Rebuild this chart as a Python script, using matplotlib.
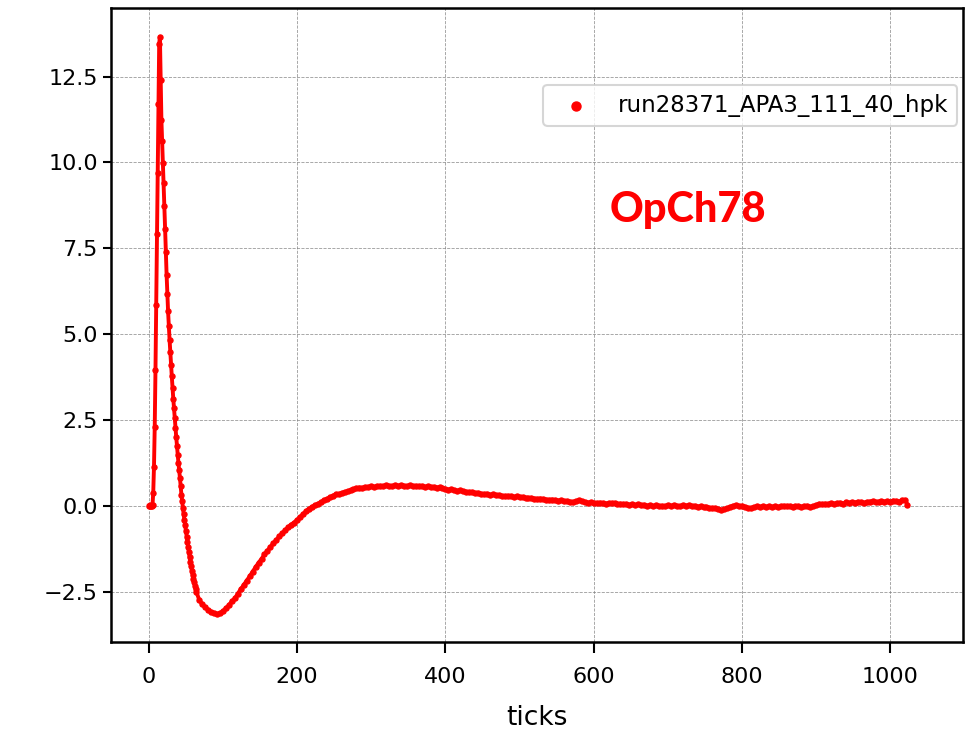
import numpy as np
import matplotlib
matplotlib.use("Agg")
import matplotlib.pyplot as plt

label = "run28371_APA3_111_40_hpk"
channel = "OpCh78"

# samples 0..63, one per tick
head_values = [
    0.00, 0.00, 0.01, -0.01, 0.00, 0.02, 0.38, 1.14, 2.30, 3.94,
    5.86, 7.90, 9.70, 11.70, 13.45, 13.66, 12.40, 11.24, 10.62, 9.99,
    9.40, 8.74, 8.06, 7.38, 6.73, 6.18, 5.66, 5.22, 4.84, 4.47,
    4.10, 3.77, 3.43, 3.12, 2.85, 2.56, 2.26, 2.00, 1.73, 1.49,
    1.24, 1.03, 0.81, 0.56, 0.32, 0.13, -0.07, -0.25, -0.41, -0.57,
    -0.73, -0.90, -1.05, -1.20, -1.36, -1.50, -1.64, -1.77, -1.89, -2.01,
    -2.12, -2.23, -2.33, -2.42,
]

# samples 64..1020, every 4 ticks
tail_values = [
    -2.50, -2.74, -2.87, -2.96, -3.03, -3.09, -3.13, -3.15, -3.13, -3.07,
    -2.98, -2.90, -2.78, -2.70, -2.56, -2.43, -2.31, -2.18, -2.06, -1.92,
    -1.79, -1.66, -1.55, -1.42, -1.31, -1.20, -1.09, -1.00, -0.89, -0.80,
    -0.71, -0.63, -0.55, -0.49, -0.41, -0.33, -0.24, -0.16, -0.09, -0.03,
    0.01, 0.06, 0.10, 0.16, 0.20, 0.24, 0.29, 0.33, 0.34, 0.37,
    0.40, 0.42, 0.45, 0.48, 0.51, 0.53, 0.52, 0.54, 0.55, 0.56,
    0.55, 0.57, 0.58, 0.57, 0.59, 0.58, 0.57, 0.59, 0.58, 0.60,
    0.58, 0.57, 0.59, 0.57, 0.58, 0.56, 0.57, 0.55, 0.56, 0.54,
    0.55, 0.53, 0.54, 0.51, 0.49, 0.47, 0.49, 0.45, 0.44, 0.45,
    0.42, 0.41, 0.39, 0.40, 0.37, 0.38, 0.35, 0.34, 0.35, 0.32,
    0.33, 0.30, 0.31, 0.29, 0.28, 0.29, 0.27, 0.26, 0.27, 0.24,
    0.25, 0.23, 0.22, 0.23, 0.21, 0.20, 0.21, 0.19, 0.18, 0.17,
    0.18, 0.16, 0.15, 0.16, 0.13, 0.14, 0.12, 0.11, 0.13, 0.16,
    0.14, 0.10, 0.09, 0.10, 0.08, 0.07, 0.09, 0.08, 0.06, 0.08,
    0.07, 0.08, 0.05, 0.06, 0.04, 0.05, 0.03, 0.04, 0.02, 0.04,
    0.01, 0.03, 0.00, 0.02, -0.01, 0.01, -0.02, 0.00, -0.02, 0.01,
    -0.01, 0.02, 0.00, -0.02, 0.01, 0.00, 0.02, -0.01, 0.00, -0.03,
    -0.01, -0.04, -0.03, -0.06, -0.08, -0.07, -0.10, -0.12, -0.11, -0.08,
    -0.03, 0.00, 0.01, -0.01, 0.00, -0.03, -0.06, -0.07, -0.04, -0.02,
    -0.04, -0.01, -0.03, -0.02, -0.04, -0.01, -0.03, -0.02, 0.00, -0.02,
    -0.01, -0.04, -0.02, -0.01, -0.03, -0.02, 0.00, -0.03, -0.02, 0.02,
    0.06, 0.04, 0.06, 0.05, 0.08, 0.06, 0.07, 0.09, 0.06, 0.10,
    0.08, 0.11, 0.09, 0.12, 0.10, 0.07, 0.11, 0.12, 0.13, 0.10,
    0.12, 0.14, 0.12, 0.13, 0.12, 0.15, 0.13, 0.12, 0.16, 0.17,
]
last_tick = 1023
last_value = 0.03

x = np.concatenate([np.arange(len(head_values)),
                    len(head_values) + 4 * np.arange(len(tail_values)),
                    [last_tick]])
y = np.concatenate([head_values, tail_values, [last_value]])

plt.rcParams['font.family'] = ['DejaVu Sans']
plt.rcParams['font.size'] = 16

fig = plt.figure(figsize=(9.65, 7.34), dpi=100)
ax = fig.add_axes([0.115, 0.1253, 0.883, 0.864])

ax.plot(x, y, color='red', lw=2.8, zorder=3)
ax.scatter(x, y, s=13, color='red', zorder=4, label=label)

ax.set_xlim(-51, 1098)
ax.set_ylim(-3.97, 14.5)
ax.set_xticks([0, 200, 400, 600, 800, 1000])
ax.set_yticks([-2.5, 0.0, 2.5, 5.0, 7.5, 10.0, 12.5])
ax.set_xlabel("ticks", fontsize=19, labelpad=13)

ax.grid(True, linestyle='--', linewidth=0.6, color='gray', alpha=0.8)
for s in ax.spines.values():
    s.set_linewidth(1.8)
ax.tick_params(axis='y', width=1.5, length=6)
ax.tick_params(axis='x', width=1.5, length=8, pad=10)

leg = ax.legend(loc='upper right', bbox_to_anchor=(0.993, 0.879),
                borderaxespad=0, markerscale=1.8, fontsize=16.5,
                handletextpad=0.83, frameon=True)
leg.get_frame().set_linewidth(1.5)

fig.text(0.632, 0.697, channel, color='red', fontsize=30,
         fontweight='black', family=['Lato', 'DejaVu Sans'], va='baseline')

fig.savefig("out.png", dpi=100)
